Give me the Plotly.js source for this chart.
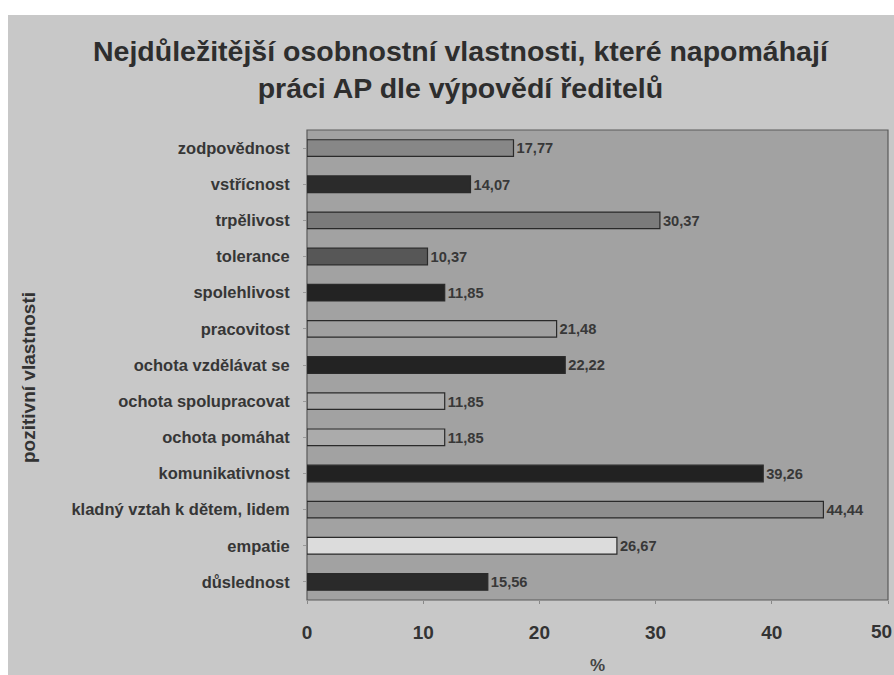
<!DOCTYPE html>
<html>
<head>
<meta charset="utf-8">
<script src="https://cdn.plot.ly/plotly-3.0.1.min.js"></script>
<style>html,body{margin:0;padding:0;background:#fff;overflow:hidden;}#chart{width:894px;height:675px;}</style>
</head>
<body>
<div id="chart"></div>
<script>
// categories listed top to bottom
const categories = [
  "zodpovědnost",
  "vstřícnost",
  "trpělivost",
  "tolerance",
  "spolehlivost",
  "pracovitost",
  "ochota vzdělávat se",
  "ochota spolupracovat",
  "ochota pomáhat",
  "komunikativnost",
  "kladný vztah k dětem, lidem",
  "empatie",
  "důslednost"
];
const values = [17.77, 14.07, 30.37, 10.37, 11.85, 21.48, 22.22, 11.85, 11.85, 39.26, 44.44, 26.67, 15.56];
const barColors = ["#878787", "#2b2b2b", "#7b7b7b", "#575757", "#232323", "#a0a0a0", "#232323", "#ababab", "#ababab", "#222222", "#8e8e8e", "#dcdcdc", "#2a2a2a"];
const xTicks = [0, 10, 20, 30, 40, 50];
const xTickText = ["0", "10", "20", "30", "40", ""];
const lastTickLabel = "50";

const cats = categories.slice().reverse();
const vals = values.slice().reverse();
const cols = barColors.slice().reverse();

const FONT = "Liberation Sans, Arial, sans-serif";

const trace = {
  type: "bar",
  orientation: "h",
  y: cats,
  x: vals,
  width: 0.46,
  marker: {color: cols, line: {color: "#2a2a2a", width: 1.2}},
  texttemplate: "%{x:.2f}",
  textposition: "outside",
  cliponaxis: false,
  textfont: {family: FONT, size: 15, color: "#383838", weight: "bold"},
  hoverinfo: "none"
};

const L = 307, R = 6, T = 130, B = 75, W = 894, H = 675;
const pw = W - L - R, ph = H - T - B;
const px = v => (v - L) / pw;
const py = v => (H - B - v) / ph;

const layout = {
  width: W, height: H,
  margin: {l: L, r: R, t: T, b: B, pad: 0},
  paper_bgcolor: "#ffffff",
  plot_bgcolor: "#a2a2a2",
  separators: ", ",
  showlegend: false,
  font: {family: FONT, color: "#2b2b2b"},
  title: {
    text: "<b>Nejdůležitější osobnostní vlastnosti, které napomáhají<br>práci AP dle výpovědí ředitelů</b>",
    x: 0.515, xanchor: "center", xref: "container",
    y: 1 - 61 / H, yanchor: "middle", yref: "container",
    font: {size: 28.5, color: "#2e2e2e", family: FONT}
  },
  xaxis: {
    range: [0, 50],
    tickvals: xTicks,
    ticktext: xTickText,
    ticks: "outside", ticklen: 3, tickcolor: "#888",
    showgrid: false, zeroline: false,
    showline: false,
    ticklabelstandoff: 12,
    tickfont: {size: 19, color: "#333", family: FONT, weight: "bold"},
    title: {text: ""},
    fixedrange: true
  },
  yaxis: {
    type: "category",
    categoryorder: "array", categoryarray: cats,
    ticks: "outside", ticklen: 3, tickcolor: "#999",
    showgrid: false, zeroline: false, showline: false,
    ticklabelstandoff: 10,
    tickfont: {size: 16.5, color: "#363636", family: FONT, weight: "bold"},
    title: {text: ""},
    fixedrange: true
  },
  annotations: [
    {text: "<b>" + lastTickLabel + "</b>", xref: "x", yref: "paper",
     x: xTicks[xTicks.length - 1], y: py(631), xshift: -7, showarrow: false,
     xanchor: "center", yanchor: "middle",
     font: {size: 19, color: "#333", family: FONT}},
    {text: "<b>pozitivní vlastnosti</b>", xref: "paper", yref: "paper",
     x: px(28), y: py(378), textangle: -90, showarrow: false,
     xanchor: "center", yanchor: "middle",
     font: {size: 19, color: "#333", family: FONT}},
    {text: "<b>%</b>", xref: "paper", yref: "paper",
     x: px(597), y: py(665), showarrow: false,
     xanchor: "center", yanchor: "middle",
     font: {size: 17, color: "#444", family: FONT}}
  ],
  shapes: [
    {type: "rect", xref: "paper", yref: "paper", layer: "below",
     x0: px(8), x1: px(W + 5), y0: py(H + 5), y1: py(15),
     fillcolor: "#c8c8c8", line: {width: 0}},
    {type: "rect", xref: "paper", yref: "paper", layer: "below",
     x0: 0, x1: 1, y0: 0, y1: 1,
     fillcolor: "#a2a2a2", line: {color: "#5a5a5a", width: 1.2}}
  ]
};

Plotly.newPlot("chart", [trace], layout, {displayModeBar: false, staticPlot: true});
</script>
</body>
</html>
